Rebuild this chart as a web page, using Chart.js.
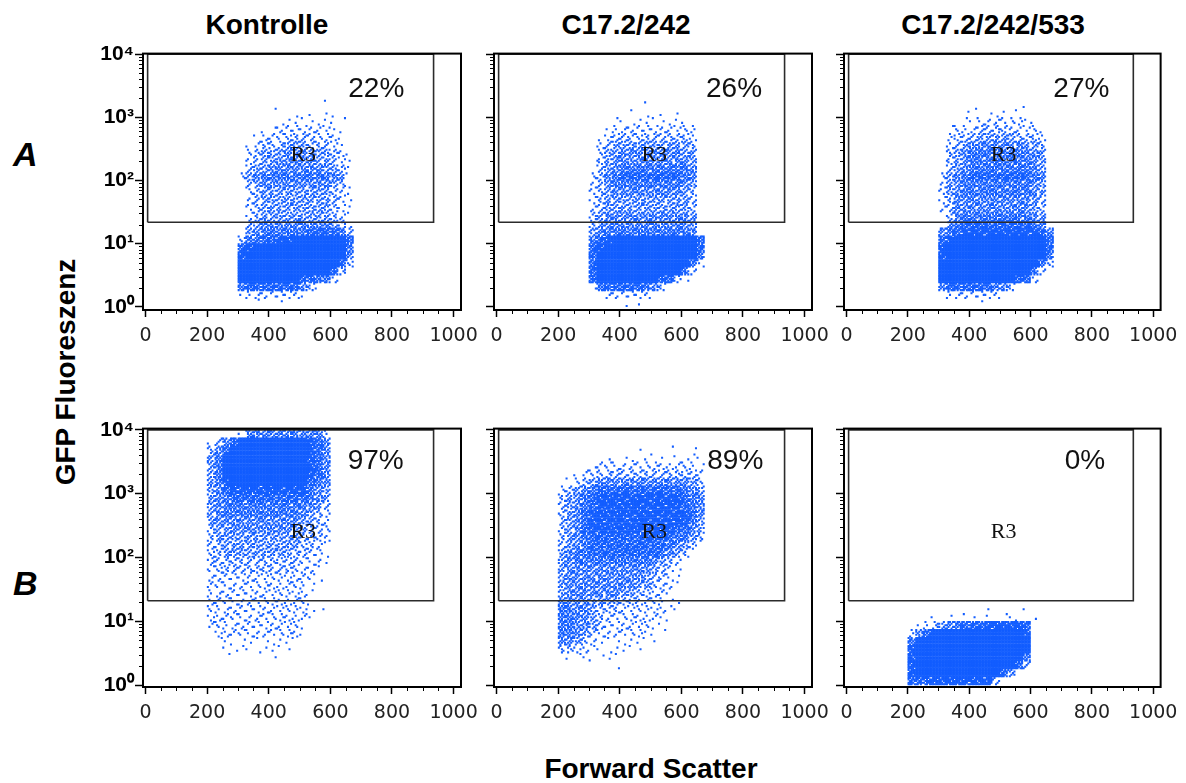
<!DOCTYPE html>
<html lang="de">
<head>
<meta charset="utf-8">
<title>GFP Fluoreszenz / Forward Scatter</title>
<script src="https://cdn.jsdelivr.net/npm/chart.js@4.4.1/dist/chart.umd.min.js"></script>
<style>
  html, body { margin:0; padding:0; background:#fff; }
  #fig { position:relative; width:1186px; height:783px; overflow:hidden; font-family:"Liberation Sans", Arial, sans-serif; color:#000; }
  .cv { position:absolute; }
  .title { position:absolute; width:300px; text-align:center; font-weight:bold; font-size:28px; line-height:28px; top:11px; }
  .row-label { position:absolute; left:13px; font-weight:bold; font-style:italic; font-size:34px; line-height:34px; }
  #ylab { position:absolute; left:66px; top:372px; font-weight:bold; font-size:28px; line-height:28px; white-space:nowrap; transform:translate(-50%,-50%) rotate(-90deg); }
  #xlab { position:absolute; left:451px; width:400px; text-align:center; top:755px; font-weight:bold; font-size:28px; line-height:28px; }
</style>
</head>
<body>
<div id="fig">
  <div class="title" style="left:117px">Kontrolle</div>
  <div class="title" style="left:476px">C17.2/242</div>
  <div class="title" style="left:843px">C17.2/242/533</div>
  <div class="row-label" style="top:137px">A</div>
  <div class="row-label" style="top:566px">B</div>
  <div id="ylab">GFP Fluoreszenz</div>
  <div id="xlab">Forward Scatter</div>
</div>
<script>
// ═══════════════════════════════════════════════════
// FACS dot plots — GFP Fluoreszenz vs Forward Scatter
// ═══════════════════════════════════════════════════

const X_TICKS = [0, 200, 400, 600, 800, 1000];
const Y_DECADES = [1, 10, 100, 1000, 10000];
const Y_TICK_LABELS = ["10⁰", "10¹", "10²", "10³", "10⁴"];
const PCT_LABELS = [["22%", "26%", "27%"], ["97%", "89%", "0%"]];
const PCT_X = [[840, 862, 857], [838, 866, 843]];   // right edge of the % text (FSC units)
const GATE_X = [7, 935];
const GATE_Y = [[21.8, 10000], [21, 10000]];
const R3_AT = [512, 250];

// Event density, one cell = 25 FSC units x 1/8 decade.
// Row 0 is the top cell (10^3.875..10^4); each row is [first column, levels 0-9],
// column 0 starts at FSC 150.
const KONTROLLE_A = [null, null, null, null, null,
  [17, "1"], [10, "1"], [13, "1.1.11"], [11, "111111111"], [9, "11222222211"],
  [8, "122233332221"], [7, "1233344433321"], [7, "23444555444321"], [7, "23445555544321"],
  [7, "34455555554431"], [6, "245666666666541"], [7, "34555555555431"], [7, "23444444444321"],
  [7, "23444444444321"], [7, "23444444444321"], [7, "23444444444321"], [7, "34555555555431"],
  [7, "45666666777763"], [6, "366778899999997"], [6, "789999999999996"], [6, "899999999999995"],
  [6, "999999999999973"], [6, "99999999999973"], [6, "9999999977662"], [6, "67777777531"],
  [6, "122222221"], [8, "1..1"]];

const C17_A = [null, null, null, null, null, null,
  [13, "1"], [11, "1.1.1.1"], [9, "1111111111"], [8, "122222222222"],
  [7, "1233333333332"], [7, "2344444444443"], [7, "2445555555544"], [7, "3455555555554"],
  [7, "3456666666665"], [6, "23567777777765"], [6, "23566666666654"], [6, "23455555555543"],
  [6, "23444444444443"], [6, "23444444444443"], [6, "34555555555554"], [6, "34555555555554"],
  [6, "45666666666665"], [6, "678999999999997"], [6, "789999999999997"], [6, "799999999999996"],
  [6, "799999999999962"], [6, "79999999999962"], [6, "7999999997731"], [6, "1677777653"],
  [8, "222222"], [10, "1.1"]];

const C17_533_A = [null, null, null, null, null, null,
  [10, "1......1"], [9, "1..111.1"], [9, "1122222211"], [7, "1222333322221"],
  [7, "2333444443332"], [7, "2345555555443"], [7, "3456666666554"], [7, "3456666666654"],
  [7, "3456666666654"], [6, "24567777777765"], [6, "24566666666654"], [6, "24566666666654"],
  [6, "23555555555543"], [6, "23555555555543"], [7, "3566666666654"], [7, "4677777777765"],
  [6, "567888888888875"], [6, "789999999999997"], [6, "899999999999997"], [6, "899999999999996"],
  [6, "999999999999963"], [6, "99999999999962"], [6, "9999999999772"], [6, "5777777553"],
  [7, "2222222"], [11, "1"]];

const KONTROLLE_B = [
  [6, "155555555552"], [2, "1357999999999875"], [2, "3579999999999875"], [2, "4699999999999875"],
  [2, "4699999999999875"], [2, "4699999999999875"], [2, "4689999999999765"], [2, "4578888888888654"],
  [2, "4567777777777654"], [2, "4566666666666543"], [2, "4566666666665432"], [2, "4555555555554432"],
  [2, "3445555555544332"], [2, "3444444444443332"], [2, "3344444444443321"], [2, "3344444444433221"],
  [2, "3333333333332221"], [2, "233333333333221"], [2, "222222222222221"], [2, "22222222222221"],
  [2, "22222222222221"], [2, "22222222222221"], [2, "22222222222221.1"], [2, "22222222222221"],
  [2, "2222222222221"], [3, "222222222221"], [3, "11111111111"], [4, "111111111"],
  [4, "1.....1"]];

const C17_B = [null, null,
  [12, "1...1..1"], [8, "1.11.111.1111"], [6, "122222222222221"], [4, "12233333333333332"],
  [3, "123455555555555543"], [2, "2345677777777777654"], [2, "3456788888888888765"], [2, "3456788888888888765"],
  [2, "3457888888888888875"], [2, "3457888888888888864"], [2, "3457888888888887754"], [2, "3456777777777776643"],
  [2, "345677777777776543"], [2, "45667777777776543"], [2, "4566666666665432"], [2, "4555555555554321"],
  [2, "4555555555543321"], [2, "4555555555443221"], [2, "455555554433221"], [2, "5555444433322211"],
  [2, "6655433322222211"], [2, "665543222222211"], [2, "66554322222211"], [2, "66543222222111"],
  [2, "5543211111111"], [2, "33221111111"], [3, "1111111"], [9, "1"]];

const C17_533_B = [null, null, null, null, null, null, null, null, null, null,
  null, null, null, null, null, null, null, null, null, null, null, null,
  [12, "1....1"], [5, "1.1.11.1.111.1"], [3, "123456777888887"], [2, "2579999999999998"],
  [2, "6999999999999999"], [2, "8999999999999999"], [2, "8999999999999996"], [2, "8999999999999973"],
  [2, "89999999999974"], [2, "777888888883"]];

const GRIDS = [[KONTROLLE_A, C17_A, C17_533_A], [KONTROLLE_B, C17_B, C17_533_B]];

// ── Layout ─────────────────────────────────────────
const FRAME_LEFT = [143, 494, 844];
const FRAME_TOP = [52, 427];
const FRAME_W = 318;
const FRAME_H = [258, 260];
const Y_RANGE = [[-0.052, 4.01], [-0.03, 4.02]];   // decades
const X_RANGE = [-8, 1024];
const DOT_COLOR = "#125dff";

const X_START = 150, X_CELL = 25, Y_CELL = 0.125;
const DOTS_PER_LEVEL = [0, 1, 3, 5, 8, 11, 14, 18, 22, 25];
const DITHER = [
  [0, 15, 5, 20, 10],
  [17, 7, 22, 12, 2],
  [9, 24, 14, 4, 19],
  [21, 11, 1, 16, 6],
  [13, 3, 18, 8, 23],
];

// ── Density cells -> events ────────────────────────
function cellPoints(grid) {
  const pts = [];
  grid.forEach((row, r) => {
    if (!row) return;
    const [start, levels] = row;
    [...levels].forEach((ch, k) => {
      const n = DOTS_PER_LEVEL[+ch] || 0;
      if (!n) return;
      const c = start + k;
      const shift = (c * 11 + r * 7) % 25;
      for (let j = 0; j < 5; j++) {
        for (let i = 0; i < 5; i++) {
          if ((DITHER[j][i] + shift) % 25 >= n) continue;
          pts.push({
            x: X_START + X_CELL * (c + (i + 0.5) / 5),
            y: Math.pow(10, 4 - Y_CELL * (r + (j + 0.5) / 5)),
          });
        }
      }
    });
  });
  return pts;
}

// ── Frame, minor ticks, gate labels ────────────────
const panelDecor = {
  id: "panelDecor",
  afterDatasetsDraw(chart, args, opts) {
    const { ctx, chartArea: a } = chart;
    const x = chart.scales.x, y = chart.scales.y;
    ctx.save();
    ctx.strokeStyle = "#000";
    ctx.lineWidth = 2;
    ctx.strokeRect(a.left, a.top, a.right - a.left, a.bottom - a.top);

    ctx.lineWidth = 1;
    ctx.beginPath();
    for (let v = 50; v < 1000; v += 50) {
      if (v % 200 === 0) continue;
      const px = Math.round(x.getPixelForValue(v)) + 0.5;
      ctx.moveTo(px, a.bottom);
      ctx.lineTo(px, a.bottom + 4);
    }
    for (let d = 1; d < 10000; d *= 10) {
      for (let k = 2; k < 10; k++) {
        const py = Math.round(y.getPixelForValue(k * d)) + 0.5;
        ctx.moveTo(a.left - 4, py);
        ctx.lineTo(a.left, py);
      }
    }
    ctx.stroke();

    ctx.fillStyle = "#111";
    ctx.font = '28px "Liberation Sans", Arial, sans-serif';
    ctx.textAlign = "right";
    ctx.textBaseline = "alphabetic";
    ctx.fillText(opts.pct, x.getPixelForValue(opts.pctX), y.getPixelForValue(opts.pctY));

    ctx.fillStyle = "#111";
    ctx.font = '22px "Liberation Serif", "DejaVu Serif", serif';
    ctx.textAlign = "center";
    ctx.textBaseline = "middle";
    ctx.fillText("R3", x.getPixelForValue(R3_AT[0]), y.getPixelForValue(R3_AT[1]));
    ctx.restore();
  },
};

// ── One dot plot ───────────────────────────────────
function makePanel(row, col) {
  const fig = document.getElementById("fig");
  const canvas = document.createElement("canvas");
  const yw = col === 0 ? 62 : 12;
  const padTop = 12, padRight = col === 2 ? 24 : 30, xh = 44;
  const w = yw + FRAME_W + padRight, h = padTop + FRAME_H[row] + xh;
  canvas.width = w;
  canvas.height = h;
  canvas.className = "cv";
  canvas.style.left = (FRAME_LEFT[col] - yw) + "px";
  canvas.style.top = (FRAME_TOP[row] - padTop) + "px";
  canvas.style.width = w + "px";
  canvas.style.height = h + "px";
  fig.appendChild(canvas);

  const gy = GATE_Y[row];
  const gate = [
    { x: GATE_X[0], y: gy[0] }, { x: GATE_X[0], y: gy[1] },
    { x: GATE_X[1], y: gy[1] }, { x: GATE_X[1], y: gy[0] },
    { x: GATE_X[0], y: gy[0] },
  ];

  new Chart(canvas, {
    type: "scatter",
    data: {
      datasets: [
        { data: gate, showLine: true, borderColor: "#2b2b2b", borderWidth: 1.6, pointRadius: 0, order: 0 },
        {
          data: cellPoints(GRIDS[row][col]),
          pointStyle: "rect",
          pointRadius: 1.45,
          backgroundColor: DOT_COLOR,
          borderColor: DOT_COLOR,
          borderWidth: 0,
          order: 1,
        },
      ],
    },
    options: {
      responsive: false,
      animation: false,
      devicePixelRatio: 1,
      events: [],
      layout: { padding: { top: padTop, right: padRight, left: 0, bottom: 0 } },
      plugins: {
        legend: { display: false },
        tooltip: { enabled: false },
        panelDecor: {
          pct: PCT_LABELS[row][col],
          pctX: PCT_X[row][col],
          pctY: Math.pow(10, row === 0 ? 3.33 : 3.38),
        },
      },
      scales: {
        x: {
          type: "linear",
          min: X_RANGE[0],
          max: X_RANGE[1],
          afterBuildTicks: s => { s.ticks = X_TICKS.map(v => ({ value: v })); },
          afterFit: s => { s.height = xh; },
          ticks: {
            autoSkip: false, maxRotation: 0, padding: 8, color: "#222",
            font: { family: "DejaVu Sans", size: 19 },
            callback: v => String(v),
          },
          grid: { drawOnChartArea: false, drawTicks: true, tickLength: 7, tickColor: "#000", tickWidth: 1.5 },
          border: { display: false },
        },
        y: {
          type: "logarithmic",
          min: Math.pow(10, Y_RANGE[row][0]),
          max: Math.pow(10, Y_RANGE[row][1]),
          afterBuildTicks: s => { s.ticks = Y_DECADES.map(v => ({ value: v, major: true })); },
          afterFit: s => { s.width = yw; },
          ticks: {
            autoSkip: false, padding: 1, color: "#000",
            font: { family: "Liberation Sans", size: 21, weight: "bold" },
            callback: (v, i) => (col === 0 ? Y_TICK_LABELS[i] : ""),
          },
          grid: { drawOnChartArea: false, drawTicks: true, tickLength: 8, tickColor: "#000", tickWidth: 1.5 },
          border: { display: false },
        },
      },
    },
    plugins: [panelDecor],
  });
}

// ── Initialize ─────────────────────────────────────
for (let r = 0; r < 2; r++) {
  for (let c = 0; c < 3; c++) makePanel(r, c);
}
</script>
</body>
</html>
